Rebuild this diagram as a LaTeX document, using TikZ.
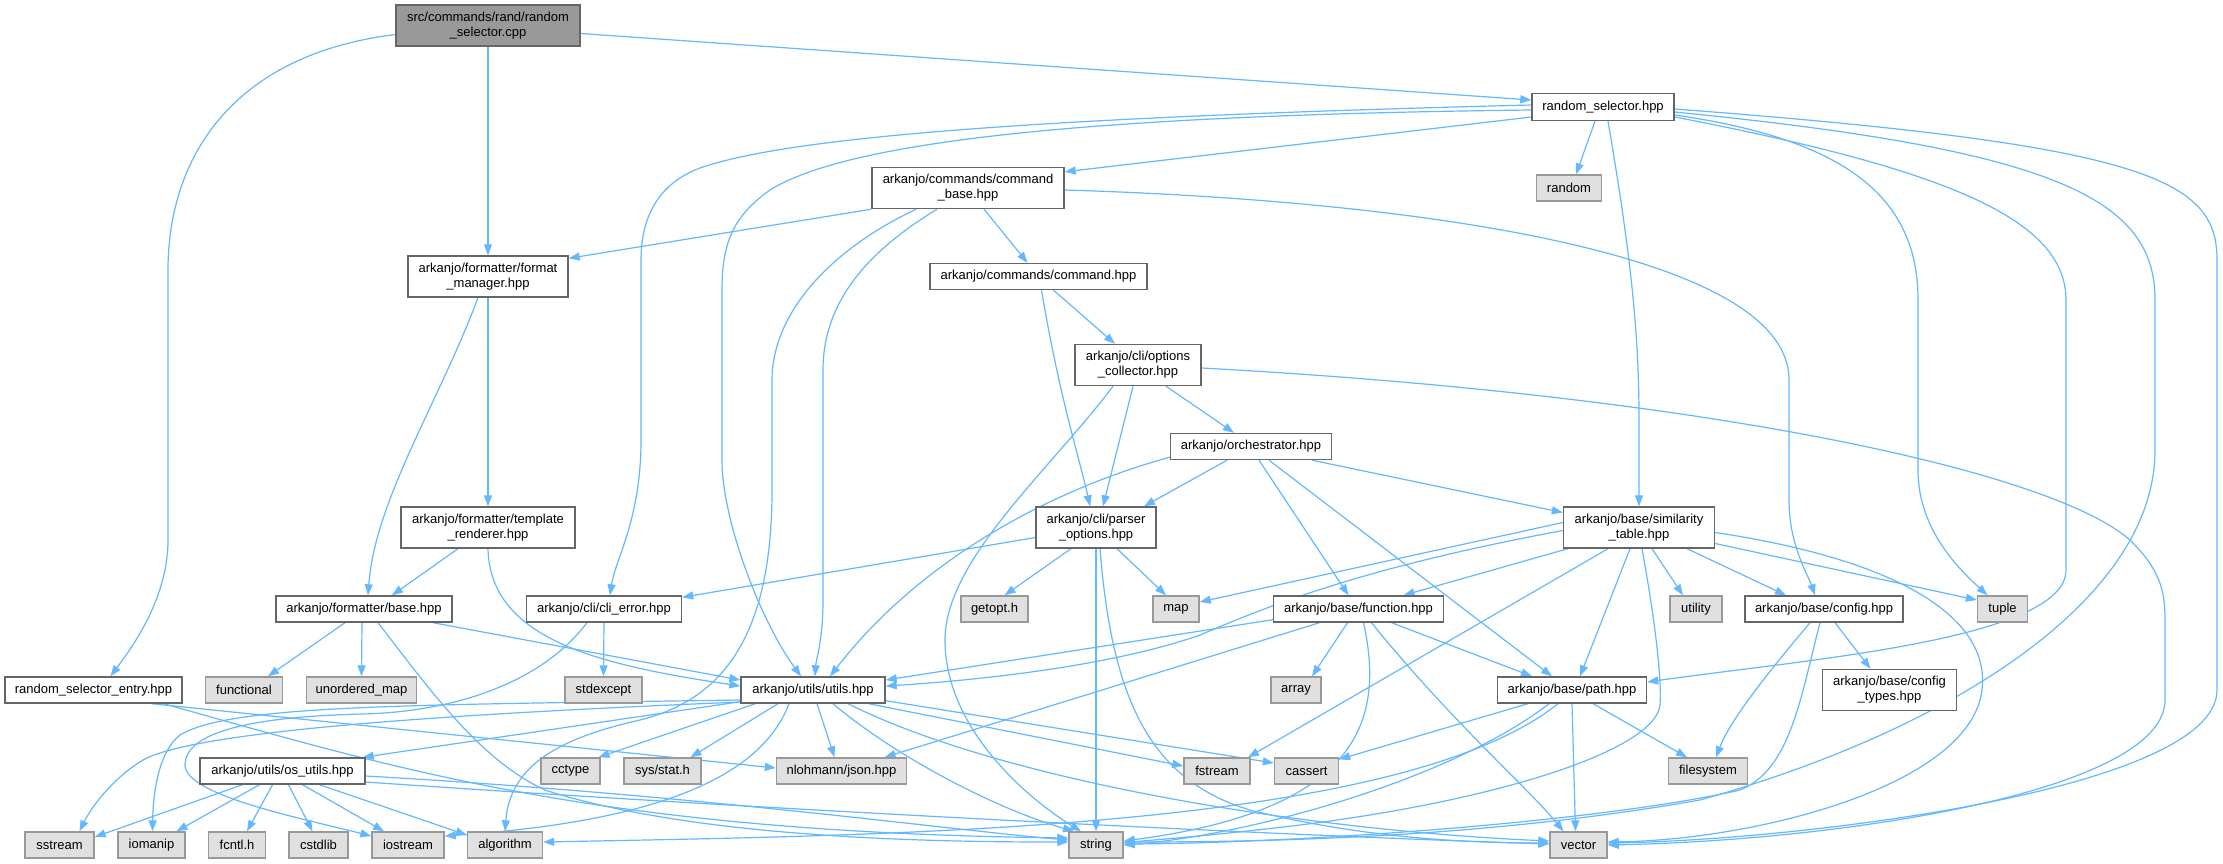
\documentclass[tikz,border=0pt]{standalone}
\usepackage{fontspec}
\setmainfont{Liberation Sans}
\usetikzlibrary{arrows.meta,calc}
\definecolor{ec}{HTML}{63B8FF}
\definecolor{bd}{HTML}{666666}
\definecolor{sbd}{HTML}{999999}
\definecolor{sfill}{HTML}{E0E0E0}
\definecolor{rfill}{HTML}{999999}
\pgfdeclarelayer{bg}
\pgfsetlayers{bg,main}
\tikzset{
  sz/.style 2 args={minimum width=#1pt,minimum height=#2pt},
  proj/.style={draw=bd,fill=white,line width=1.4pt,inner sep=0pt,align=center,font=\fontsize{13}{15}\selectfont},
  sys/.style={draw=sbd,fill=sfill,line width=1.4pt,inner sep=0pt,align=center,font=\fontsize{13}{15}\selectfont},
  rootn/.style={draw=bd,fill=rfill,line width=1.4pt,inner sep=0pt,align=center,font=\fontsize{13}{15}\selectfont},
  edg/.style={draw=ec,line width=1.2pt,-{Triangle[length=11pt,width=8pt]}}
}
\begin{document}
\begin{tikzpicture}[x=1pt,y=-1pt]
\useasboundingbox (0,0) rectangle (2223,863);
% nodes
\node[rootn,sz={184}{41}] (root) at (488,25.5) {src/commands/rand/random\\\_selector.cpp};
\node[proj,sz={142}{27}] (rsh) at (1603,107) {random\_selector.hpp};
\node[sys,sz={65}{26}] (random) at (1569,188) {random};
\node[proj,sz={192}{41}] (cmdbase) at (968,188) {arkanjo/commands/command\\\_base.hpp};
\node[proj,sz={160}{41}] (fmtmgr) at (488,276.5) {arkanjo/formatter/format\\\_manager.hpp};
\node[proj,sz={217}{26}] (cmd) at (1038.5,276.5) {arkanjo/commands/command.hpp};
\node[proj,sz={126}{41}] (optcol) at (1138,365) {arkanjo/cli/options\\\_collector.hpp};
\node[proj,sz={161}{26}] (orch) at (1251,446.5) {arkanjo/orchestrator.hpp};
\node[proj,sz={174}{41}] (tmpl) at (488,527.5) {arkanjo/formatter/template\\\_renderer.hpp};
\node[proj,sz={120}{41}] (parser) at (1096,527.5) {arkanjo/cli/parser\\\_options.hpp};
\node[proj,sz={151}{41}] (simil) at (1639,527.5) {arkanjo/base/similarity\\\_table.hpp};
\node[proj,sz={176}{26}] (fbase) at (364,609) {arkanjo/formatter/base.hpp};
\node[proj,sz={155}{26}] (clierr) at (604,609) {arkanjo/cli/cli\_error.hpp};
\node[sys,sz={67}{26}] (getopt) at (994.5,609) {getopt.h};
\node[sys,sz={46}{26}] (map) at (1176,609) {map};
\node[proj,sz={170}{26}] (func) at (1358.5,609) {arkanjo/base/function.hpp};
\node[sys,sz={52}{26}] (utility) at (1696,609) {utility};
\node[proj,sz={158}{26}] (config) at (1824,609) {arkanjo/base/config.hpp};
\node[sys,sz={50}{26}] (tuple) at (2002.5,609) {tuple};
\node[proj,sz={177}{26}] (entry) at (93.5,690) {random\_selector\_entry.hpp};
\node[sys,sz={77}{26}] (functional) at (244,690) {functional};
\node[sys,sz={110}{26}] (umap) at (361.5,690) {unordered\_map};
\node[sys,sz={77}{26}] (stdexcept) at (603.5,690) {stdexcept};
\node[proj,sz={144}{26}] (utils) at (813,690) {arkanjo/utils/utils.hpp};
\node[sys,sz={50}{26}] (array) at (1296,690) {array};
\node[proj,sz={149}{26}] (path) at (1572,690) {arkanjo/base/path.hpp};
\node[proj,sz={134}{41}] (ctypes) at (1889.5,690) {arkanjo/base/config\\\_types.hpp};
\node[proj,sz={165}{26}] (osutils) at (282.5,771) {arkanjo/utils/os\_utils.hpp};
\node[sys,sz={59}{26}] (cctype) at (570.5,771) {cctype};
\node[sys,sz={77}{26}] (sysstat) at (662.5,771) {sys/stat.h};
\node[sys,sz={130}{26}] (json) at (841.5,771) {nlohmann/json.hpp};
\node[sys,sz={66}{26}] (fstream) at (1217,771) {fstream};
\node[sys,sz={64}{26}] (cassert) at (1306.5,771) {cassert};
\node[sys,sz={79}{26}] (filesystem) at (1708,771) {filesystem};
\node[sys,sz={69}{26}] (sstream) at (59.5,845) {sstream};
\node[sys,sz={67}{26}] (iomanip) at (151.5,845) {iomanip};
\node[sys,sz={57}{26}] (fcntl) at (237,845) {fcntl.h};
\node[sys,sz={59}{26}] (cstdlib) at (318.5,845) {cstdlib};
\node[sys,sz={72}{26}] (iostream) at (408,845) {iostream};
\node[sys,sz={75}{26}] (algorithm) at (505,845) {algorithm};
\node[sys,sz={54}{26}] (string) at (1096,845) {string};
\node[sys,sz={57}{26}] (vector) at (1578.5,845) {vector};
\begin{pgfonlayer}{bg}
\fill[white] (0,0) rectangle (2223,863);
% root
\draw[edg] ($(root.east)+(0,8)$) -- ($(rsh.west)+(0,-7)$);
\draw[edg] (root.south) -- (fmtmgr.north);
\draw[edg] ($(root.west)+(0,9)$) .. controls (230,55) and (168,160) .. (168,270) -- (168,540) .. controls (168,600) and (130,650) .. ($(entry.north)+(17,0)$);
% random_selector.hpp
\draw[edg] ($(rsh.west)+(0,10)$) -- ($(cmdbase.north east)+(0,5)$);
\draw[edg] ($(rsh.west)+(0,3)$) .. controls (1100,115) and (850,140) .. (770,190) .. controls (735,215) and (722,240) .. (722,290) -- (722,460) .. controls (722,520) and (760,620) .. ($(utils.north)+(-12,0)$);
\draw[edg] ($(rsh.west)+(0,-2)$) .. controls (1000,118) and (780,140) .. (700,168) .. controls (660,183) and (641,215) .. (641,260) -- (641,440) .. controls (641,520) and (615,560) .. ($(clierr.north)+(6,0)$);
\draw[edg] ($(rsh.south)+(-8,0)$) -- ($(random.north)+(7,0)$);
\draw[edg] ($(rsh.south)+(5,0)$) .. controls (1630,250) and (1639,330) .. (1639,420) -- (simil.north);
\draw[edg] ($(rsh.east)+(0,8)$) .. controls (1850,140) and (1918,200) .. (1918,300) -- (1918,470) .. controls (1918,530) and (1960,570) .. ($(tuple.north)+(-15,0)$);
\draw[edg] ($(rsh.east)+(0,10)$) .. controls (1950,170) and (2066,220) .. (2066,300) -- (2066,570) .. controls (2066,640) and (1800,660) .. ($(path.east)+(0,-8)$);
\draw[edg] ($(rsh.east)+(0,5)$) .. controls (2060,150) and (2155,200) .. (2155,300) -- (2155,450) .. controls (2155,600) and (1950,730) .. (1700,800) .. controls (1500,835) and (1300,842) .. ($(string.east)+(0,-3)$);
\draw[edg] ($(rsh.east)+(0,2)$) .. controls (2150,145) and (2217,180) .. (2217,260) -- (2217,690) .. controls (2217,790) and (1800,840) .. ($(vector.east)+(0,-2)$);
% command_base
\draw[edg] (cmdbase.south west) -- ($(fmtmgr.north east)+(0,3)$);
\draw[edg] ($(cmdbase.south)+(16,0)$) -- ($(cmd.north)+(-11,0)$);
\draw[edg] ($(cmdbase.south)+(-31,0)$) .. controls (870,250) and (823,300) .. (823,370) -- (823,600) .. controls (823,640) and (816,660) .. ($(utils.north)+(2,0)$);
\draw[edg] ($(cmdbase.south)+(-52,0)$) .. controls (820,255) and (772,320) .. (772,380) -- (772,490) .. controls (772,640) and (720,700) .. (640,720) .. controls (560,738) and (510,765) .. (algorithm.north);
\draw[edg] ($(cmdbase.east)+(0,2)$) .. controls (1400,200) and (1789,250) .. (1789,380) -- (1789,500) .. controls (1789,545) and (1808,575) .. ($(config.north)+(-9,0)$);
% format manager / template / base
\draw[edg] (fmtmgr.south) -- (tmpl.north);
\draw[edg] ($(fmtmgr.south)+(-10,0)$) .. controls (440,400) and (375,500) .. ($(fbase.north)+(4,0)$);
\draw[edg] ($(tmpl.south)+(-30,0)$) -- ($(fbase.north)+(28,0)$);
\draw[edg] (tmpl.south) .. controls (490,640) and (600,665) .. ($(utils.west)+(0,-4)$);
\draw[edg] ($(fbase.south)+(-19,0)$) -- ($(functional.north)+(24,0)$);
\draw[edg] ($(fbase.south)+(-2,0)$) -- (umap.north);
\draw[edg] ($(fbase.south)+(69,0)$) -- ($(utils.west)+(0,-10)$);
\draw[edg] ($(fbase.south)+(14,0)$) .. controls (430,690) and (480,760) .. (545,790) .. controls (700,840) and (950,842) .. ($(string.west)+(0,-3)$);
% cli_error
\draw[edg] (clierr.south) -- (stdexcept.north);
\draw[edg] ($(clierr.south)+(-17,0)$) .. controls (540,685) and (450,712) .. (362,714) .. controls (240,717) and (185,735) .. (185,765) .. controls (185,795) and (300,818) .. ($(iostream.west)+(0,-9)$);
% parser_options
\draw[edg] ($(parser.west)+(0,10)$) -- ($(clierr.north east)+(0,2)$);
\draw[edg] ($(parser.south)+(-25,0)$) -- ($(getopt.north)+(10,0)$);
\draw[edg] ($(parser.south)+(21,0)$) -- ($(map.north)+(-10,0)$);
\draw[edg] (parser.south) -- (string.north);
\draw[edg] ($(parser.south)+(4,0)$) .. controls (1112,700) and (1150,780) .. (1250,810) .. controls (1350,835) and (1450,843) .. ($(vector.west)+(0,-2)$);
% command.hpp / options_collector
\draw[edg] ($(cmd.south)+(15,0)$) -- ($(optcol.north)+(-23,0)$);
\draw[edg] ($(cmd.south)+(3,0)$) .. controls (1060,400) and (1080,460) .. ($(parser.north)+(-6,0)$);
\draw[edg] ($(optcol.south)+(-5,0)$) -- ($(parser.north)+(7,0)$);
\draw[edg] ($(optcol.south)+(28,0)$) -- ($(orch.north)+(-17,0)$);
\draw[edg] ($(optcol.south)+(-25,0)$) .. controls (1050,470) and (945,560) .. (945,640) .. controls (945,730) and (1030,800) .. ($(string.north)+(-15,0)$);
\draw[edg] ($(optcol.east)+(0,3)$) .. controls (1700,395) and (2050,470) .. (2130,540) .. controls (2160,570) and (2165,590) .. (2165,620) -- (2165,700) .. controls (2165,790) and (1850,840) .. ($(vector.east)+(0,0)$);
% orchestrator
\draw[edg] ($(orch.south)+(-24,0)$) -- ($(parser.north)+(48,0)$);
\draw[edg] ($(orch.south west)+(0,-3)$) .. controls (1050,490) and (920,560) .. ($(utils.north)+(17,0)$);
\draw[edg] ($(orch.south)+(8,0)$) -- ($(func.north)+(-10,0)$);
\draw[edg] ($(orch.south)+(18,0)$) -- ($(path.north)+(-20,0)$);
\draw[edg] ($(orch.south)+(61,0)$) -- ($(simil.west)+(0,-15)$);
% function.hpp
\draw[edg] ($(func.south west)+(0,-3)$) -- ($(utils.east)+(0,-10)$);
\draw[edg] ($(func.south)+(-39,0)$) -- ($(json.north)+(43,0)$);
\draw[edg] ($(func.south)+(-11,0)$) -- ($(array.north)+(16,0)$);
\draw[edg] ($(func.south)+(5,0)$) .. controls (1385,720) and (1360,810) .. ($(string.east)+(0,-4)$);
\draw[edg] ($(func.south)+(33,0)$) -- ($(path.north)+(-40,0)$);
\draw[edg] ($(func.south)+(13,0)$) .. controls (1450,720) and (1530,790) .. ($(vector.north)+(-15,0)$);
% similarity_table
\draw[edg] ($(simil.west)+(0,-5)$) -- ($(map.east)+(0,-7)$);
\draw[edg] ($(simil.west)+(0,3)$) .. controls (1350,570) and (1260,610) .. (1200,635) .. controls (1100,670) and (950,682) .. ($(utils.east)+(0,-4)$);
\draw[edg] ($(simil.south west)+(5,0)$) -- ($(func.north)+(45,0)$);
\draw[edg] ($(simil.south)+(-31,0)$) -- ($(fstream.north)+(31,0)$);
\draw[edg] ($(simil.south)+(-9,0)$) -- ($(path.north)+(8,0)$);
\draw[edg] ($(simil.south)+(3,0)$) .. controls (1655,620) and (1662,680) .. (1660,705) .. controls (1655,750) and (1500,800) .. (1300,825) .. controls (1200,837) and (1150,840) .. ($(string.east)+(0,-2)$);
\draw[edg] ($(simil.south)+(13,0)$) -- ($(utility.north)+(-13,0)$);
\draw[edg] ($(simil.south)+(48,0)$) -- ($(config.north)+(-38,0)$);
\draw[edg] ($(simil.east)+(0,16)$) -- ($(tuple.west)+(0,-9)$);
\draw[edg] ($(simil.east)+(0,5)$) .. controls (1900,560) and (2000,620) .. (1980,700) .. controls (1955,790) and (1750,840) .. ($(vector.east)+(0,-3)$);
% config
\draw[edg] ($(config.south)+(-14,0)$) .. controls (1770,670) and (1730,720) .. ($(filesystem.north)+(8,0)$);
\draw[edg] ($(config.south)+(-4,0)$) .. controls (1800,700) and (1790,770) .. (1740,790) .. controls (1600,822) and (1300,843) .. ($(string.east)+(0,-1)$);
\draw[edg] ($(config.south)+(11,0)$) -- ($(ctypes.north)+(-19,0)$);
% path
\draw[edg] ($(path.south)+(21,0)$) -- ($(filesystem.north)+(-21,0)$);
\draw[edg] (path.south) -- ($(vector.north)+(-3,0)$);
\draw[edg] ($(path.south)+(-23,0)$) .. controls (1450,780) and (1250,835) .. (string.east);
\draw[edg] ($(path.south west)+(31,0)$) -- ($(cassert.north east)+(0,2)$);
\draw[edg] ($(path.south)+(-14,0)$) .. controls (1400,830) and (900,835) .. ($(algorithm.east)+(0,-3)$);
% utils.hpp
\draw[edg] ($(utils.south west)+(0,-2)$) -- ($(osutils.north east)+(-3,0)$);
\draw[edg] ($(utils.south west)+(15,0)$) -- ($(cctype.north)+(28,0)$);
\draw[edg] ($(utils.south)+(-35,0)$) -- ($(sysstat.north)+(28,0)$);
\draw[edg] ($(utils.south)+(4,0)$) -- ($(json.north)+(-7,0)$);
\draw[edg] ($(utils.south east)+(-17,0)$) -- ($(fstream.west)+(0,-5)$);
\draw[edg] ($(utils.south east)+(0,-3)$) -- ($(cassert.west)+(0,-8)$);
\draw[edg] ($(utils.south)+(20,0)$) .. controls (900,760) and (1000,810) .. ($(string.north)+(-22,0)$);
\draw[edg] ($(utils.south)+(35,0)$) .. controls (1000,780) and (1300,830) .. ($(vector.west)+(0,-4)$);
\draw[edg] ($(utils.west)+(0,12)$) .. controls (500,712) and (200,728) .. (143,760) .. controls (110,780) and (90,810) .. ($(sstream.north)+(20,0)$);
\draw[edg] ($(utils.west)+(0,10)$) .. controls (400,705) and (230,705) .. (180,735) .. controls (158,752) and (153,795) .. ($(iomanip.north)+(1,0)$);
\draw[edg] ($(utils.south)+(-24,0)$) .. controls (760,780) and (650,822) .. ($(iostream.east)+(0,-9)$);
% os_utils
\draw[edg] ($(osutils.south)+(-40,0)$) -- ($(sstream.east)+(0,-8)$);
\draw[edg] ($(osutils.south)+(-23,0)$) -- ($(iomanip.north)+(25,0)$);
\draw[edg] ($(osutils.south)+(-10,0)$) -- ($(fcntl.north)+(10,0)$);
\draw[edg] ($(osutils.south)+(6,0)$) -- ($(cstdlib.north)+(-6,0)$);
\draw[edg] ($(osutils.south)+(20,0)$) -- ($(iostream.north)+(-24,0)$);
\draw[edg] ($(osutils.south)+(37,0)$) -- ($(algorithm.west)+(0,-10)$);
\draw[edg] ($(osutils.east)+(0,5)$) .. controls (700,795) and (950,830) .. ($(string.west)+(0,-5)$);
\draw[edg] ($(osutils.east)+(0,11)$) .. controls (800,812) and (1300,836) .. ($(vector.west)+(0,-1)$);
% random_selector_entry
\draw[edg] ($(entry.south east)+(-31,0)$) -- ($(json.west)+(0,-3)$);
\draw[edg] ($(entry.south east)+(-19,0)$) .. controls (400,770) and (600,832) .. ($(string.west)+(0,-7)$);
\end{pgfonlayer}
\end{tikzpicture}
\end{document}
